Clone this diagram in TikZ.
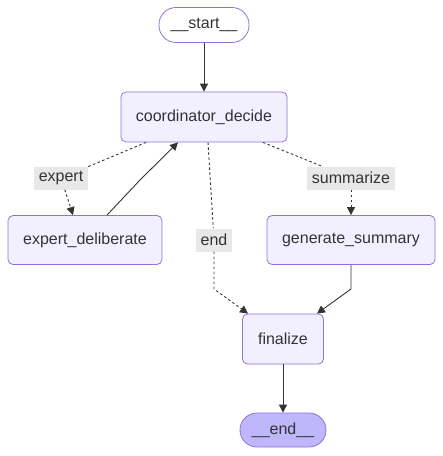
\documentclass[tikz,border=0pt]{standalone}
\usepackage{fontspec}
\setmainfont{Liberation Sans}
\usetikzlibrary{arrows.meta}
\definecolor{nodefill}{HTML}{F2F0FF}
\definecolor{nodeline}{HTML}{9370DB}
\definecolor{endfill}{HTML}{BFB6FC}
\definecolor{txt}{HTML}{333333}
\definecolor{lblbg}{HTML}{E8E8E8}
\tikzset{
  box/.style={draw=nodeline, fill=nodefill, rounded corners=5pt, line width=0.8pt,
    text=txt, font=\fontsize{16}{19}\selectfont, minimum height=50pt, inner sep=0pt},
  pill/.style={box, rounded corners=17pt, minimum height=34pt},
  lbl/.style={fill=lblbg, text=txt, font=\fontsize{16}{19}\selectfont,
    inner xsep=4.5pt, inner ysep=0pt, minimum height=23pt},
  edge/.style={draw=txt, line width=0.9pt, -{Triangle[length=8pt,width=8pt]}},
  plainedge/.style={draw=txt, line width=0.9pt},
  dedge/.style={edge, dash pattern=on 2.5pt off 2.5pt},
  dplain/.style={plainedge, dash pattern=on 2.5pt off 2.5pt}
}
\begin{document}
\begin{tikzpicture}[x=1pt,y=-1pt]
\useasboundingbox (0,0) rectangle (443,456);
\node[pill, fill=white, minimum width=90pt, minimum height=35pt] (start) at (204,25) {\_\_start\_\_};
\node[box, minimum width=166pt] (coord) at (204,117) {coordinator\_decide};
\node[box, minimum width=154pt, minimum height=49pt] (expert) at (85,240) {expert\_deliberate};
\node[box, minimum width=168pt, minimum height=49pt] (summ) at (351,240) {generate\_summary};
\node[box, minimum width=81pt] (final) at (283,339) {finalize};
\node[pill, fill=endfill, minimum width=86pt] (end) at (283,430) {\_\_end\_\_};

\node[lbl] (lexpert) at (61,178) {expert};
\node[lbl] (lsumm) at (351,178) {summarize};
\node[lbl] (lend) at (214,240) {end};

\coordinate (b1) at (140,180);
\coordinate (b2) at (214,289);
\coordinate (b3) at (351,289);

\draw[edge] (start) -- (coord);
\draw[dplain] ([xshift=-58pt]coord.south) -- (lexpert);
\draw[dedge] (lexpert) -- ([xshift=-12pt]expert.north);
\draw[edge] ([xshift=22pt]expert.north) -- (b1) -- ([xshift=-26pt]coord.south);
\draw[dplain] ([xshift=4pt]coord.south) -- (lend);
\draw[dedge] (lend) -- (b2) -- ([xshift=-35pt]final.north);
\draw[dplain] ([xshift=59pt]coord.south) -- (lsumm);
\draw[dedge] (lsumm) -- (summ.north);
\draw[edge] (summ.south) -- (b3) -- ([xshift=34pt]final.north);
\draw[edge] (final) -- (end);
\end{tikzpicture}
\end{document}
